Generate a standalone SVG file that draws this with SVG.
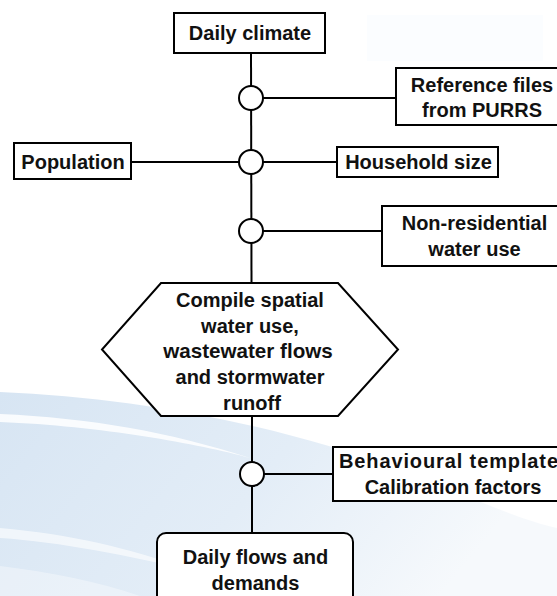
<svg xmlns="http://www.w3.org/2000/svg" width="557" height="596" viewBox="0 0 557 596">
<defs>
<linearGradient id="bg" x1="0" y1="0" x2="1" y2="0.3">
<stop offset="0" stop-color="#d7e5f3"/>
<stop offset="0.55" stop-color="#e3edf7"/>
<stop offset="1" stop-color="#f6f9fc"/>
</linearGradient>
<style>
.box{fill:#fff;stroke:#000;stroke-width:2}
.hub{fill:#fff;stroke:#000;stroke-width:2}
.ln{stroke:#000;stroke-width:2;fill:none}
text{font-family:"Liberation Sans",Arial,sans-serif;font-weight:bold;font-size:20px;fill:#111;text-anchor:middle}
</style>
</defs>
<rect width="557" height="596" fill="#fff"/>
<g id="background">
<rect x="367" y="15" width="176" height="46" fill="#fbfdff"/>
<path d="M0,392 C140,398 280,425 400,470 C470,497 520,520 557,528 L557,596 L0,596 Z" fill="url(#bg)"/>
<path d="M0,414 C90,418 170,432 250,458 C200,444 100,426 0,422 Z" fill="#fff" opacity="0.85"/>
<path d="M0,528 C70,534 130,548 190,570 C130,556 60,542 0,538 Z" fill="#fff" opacity="0.6"/>
<path d="M0,566 C50,572 100,582 140,596 L0,596 Z" fill="#fff" opacity="0.35"/>
</g>
<g id="connectors">
<line class="ln" x1="251" y1="53" x2="251.5" y2="283"/>
<line class="ln" x1="252" y1="416" x2="252" y2="533"/>
<line class="ln" x1="251" y1="98" x2="396" y2="98"/>
<line class="ln" x1="131" y1="162" x2="337" y2="162"/>
<line class="ln" x1="251" y1="231" x2="382" y2="231"/>
<line class="ln" x1="252" y1="474" x2="333" y2="474"/>
</g>
<g id="hubs">
<circle class="hub" cx="251" cy="98" r="12"/>
<circle class="hub" cx="251" cy="162" r="12"/>
<circle class="hub" cx="251" cy="231" r="12"/>
<circle class="hub" cx="252" cy="474" r="12"/>
</g>
<g id="daily-climate">
<rect class="box" x="174" y="13" width="151" height="40"/>
<text x="250" y="40">Daily climate</text>
</g>
<g id="reference-files">
<rect class="box" x="396" y="68" width="170" height="57"/>
<text x="482" y="92">Reference files</text>
<text x="482" y="117">from PURRS</text>
</g>
<g id="population">
<rect class="box" x="14" y="143" width="117" height="36"/>
<text x="73" y="169">Population</text>
</g>
<g id="household-size">
<rect class="box" x="337" y="147" width="161" height="30"/>
<text x="418.5" y="169">Household size</text>
</g>
<g id="non-residential">
<rect class="box" x="382" y="206" width="184" height="60"/>
<text x="474.5" y="230">Non-residential</text>
<text x="474.5" y="256">water use</text>
</g>
<g id="compile">
<polygon class="box" points="161,283 338,283 398,349.5 338,416 161,416 102,349.5"/>
<text x="250" y="307">Compile spatial</text>
<text x="250" y="333">water use,</text>
<text x="248" y="358" style="font-size:20.6px">wastewater flows</text>
<text x="250" y="384">and stormwater</text>
<text x="252" y="410">runoff</text>
</g>
<g id="behavioural">
<rect class="box" x="333" y="447" width="233" height="54"/>
<text x="339" y="468" style="text-anchor:start" textLength="219" lengthAdjust="spacing">Behavioural template</text>
<text x="453" y="494">Calibration factors</text>
</g>
<g id="daily-flows">
<rect class="box" x="157" y="533" width="196" height="80" rx="9" ry="9"/>
<text x="255.5" y="564">Daily flows and</text>
<text x="255.5" y="590">demands</text>
</g>
</svg>
